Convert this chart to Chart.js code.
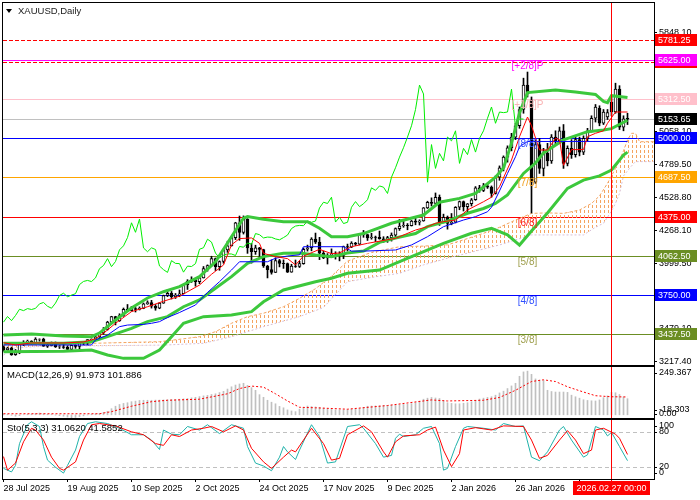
<!DOCTYPE html>
<html>
<head>
<meta charset="utf-8">
<script src="https://cdn.jsdelivr.net/npm/chart.js@4.4.1/dist/chart.umd.min.js"></script>
<style>
  html, body { margin: 0; padding: 0; background: #fff; }
  #wrap { position: relative; width: 700px; height: 500px; overflow: hidden; }
  canvas { position: absolute; left: 0; }
</style>
</head>
<body>
<div id="wrap">
  <canvas id="mainChart" width="700" height="366" style="top:0px"></canvas>
  <canvas id="macdChart" width="700" height="53" style="top:366px"></canvas>
  <canvas id="stochChart" width="700" height="82" style="top:418px"></canvas>
</div>
<script>
// XAUUSD daily candles, bar 0 = 28 Jul 2025
const opens = [
  3337,3314,3326,3274,3289,3363,3373,3381,3369,3397,
  3398,3342,3348,3356,3335,3336,3332,3315,3348,3339,
  3371,3365,3393,3397,3416,3448,3476,3533,3578,3545,
  3586,3636,3625,3641,3634,3643,3679,3690,3660,3644,
  3685,3746,3764,3736,3749,3760,3833,3858,3866,3857,
  3886,3960,3985,4040,3976,4017,4110,4142,4208,4326,
  4250,4356,4125,4095,4126,4113,3981,3952,3930,4024,
  4002,4000,3932,3980,3977,4000,4115,4127,4195,4172,
  4084,4045,4067,4078,4077,4065,4137,4131,4165,4155,
  4240,4231,4205,4212,4210,4197,4190,4208,4228,4280,
  4300,4305,4303,4340,4330,4340,4445,4490,4480,4530,
  4332,4370,4320,4330,4450,4495,4455,4478,4510,4605,
  4585,4620,4610,4560,4690,4765,4850,4925,5010,5100,
  5230,5425,5306,4650,4950,4760,4880,4820,5010,4980,
  5060,4800,4920,4870,4990,4890,5000,5060,5160,5240,
  5120,5170,5290,5210,5393,5090,5160
];
const highs = [
  3345,3334,3334,3315,3363,3385,3390,3385,3409,3400,
  3405,3358,3375,3375,3346,3358,3345,3350,3350,3378,
  3376,3393,3400,3424,3453,3490,3540,3580,3580,3600,
  3646,3674,3658,3650,3655,3686,3703,3707,3674,3690,
  3749,3791,3778,3762,3790,3835,3872,3895,3876,3890,
  3977,3990,4059,4045,4022,4116,4179,4218,4330,4380,
  4381,4359,4161,4147,4130,4115,3987,4030,4047,4034,
  4030,4005,3995,4029,4019,4125,4148,4207,4244,4210,
  4100,4080,4118,4095,4095,4140,4156,4175,4170,4242,
  4265,4233,4242,4220,4260,4215,4218,4245,4285,4353,
  4352,4320,4345,4375,4350,4448,4498,4525,4564,4548,
  4395,4380,4400,4455,4500,4500,4480,4520,4615,4625,
  4640,4635,4620,4700,4780,4860,4940,5040,5120,5250,
  5480,5529,5330,4990,5000,4920,4960,5030,5060,5090,
  5110,4940,4990,5010,5010,5020,5080,5180,5270,5260,
  5230,5230,5330,5440,5420,5180,5200
];
const lows = [
  3301,3309,3268,3268,3281,3346,3357,3358,3367,3381,
  3340,3331,3343,3331,3323,3323,3311,3311,3324,3321,
  3352,3352,3370,3385,3402,3436,3470,3527,3511,3539,
  3580,3620,3621,3614,3630,3640,3675,3645,3628,3640,
  3683,3737,3718,3722,3736,3758,3794,3850,3820,3840,
  3885,3940,3980,3945,3947,4003,4090,4140,4192,4186,
  4236,4082,4004,4074,4046,3970,3886,3916,3929,3974,
  3962,3929,3931,3970,3969,3995,4100,4102,4160,4032,
  4040,3997,4055,4036,4022,4040,4100,4128,4145,4150,
  4210,4185,4195,4175,4195,4170,4170,4180,4200,4265,
  4290,4270,4300,4310,4308,4338,4440,4460,4475,4305,
  4325,4275,4310,4325,4430,4420,4410,4460,4505,4570,
  4575,4600,4530,4555,4665,4740,4810,4900,4990,5080,
  5200,5330,4404,4640,4720,4700,4780,4800,4950,4960,
  4760,4780,4840,4850,4860,4870,4980,5050,5130,5100,
  5110,5150,5180,5200,5070,5060,5110
];
const closes = [
  3314,3326,3274,3289,3363,3373,3381,3369,3397,3398,
  3342,3348,3356,3335,3336,3332,3315,3348,3339,3371,
  3365,3393,3397,3416,3448,3476,3533,3578,3545,3586,
  3636,3625,3641,3634,3643,3679,3690,3660,3644,3685,
  3746,3764,3736,3749,3760,3833,3858,3866,3857,3886,
  3960,3985,4040,3976,4017,4110,4142,4208,4326,4250,
  4356,4125,4095,4126,4113,3981,3952,3930,4024,4002,
  4000,3932,3980,3977,4000,4115,4127,4195,4172,4084,
  4045,4067,4078,4077,4065,4137,4131,4165,4155,4240,
  4231,4205,4212,4210,4197,4190,4208,4228,4280,4300,
  4305,4303,4340,4330,4340,4445,4490,4480,4530,4332,
  4370,4320,4330,4450,4495,4455,4478,4510,4605,4585,
  4620,4610,4560,4690,4765,4850,4925,5010,5100,5230,
  5425,5354,4650,4950,4760,4880,4820,5010,4980,5060,
  4800,4920,4870,4990,4890,5000,5060,5160,5250,5120,
  5210,5205,5210,5393,5090,5155,5153.65
];

const dateTicks = [0, 16, 32, 48, 64, 80, 96, 112, 128, 144];
const dateLabels = ['28 Jul 2025', '19 Aug 2025', '10 Sep 2025', '2 Oct 2025', '24 Oct 2025',
  '17 Nov 2025', '9 Dec 2025', '2 Jan 2026', '26 Jan 2026', '17 Feb 2026'];
const cursorBar = 152;
const cursorLabel = '2026.02.27 00:00';

const priceTicks = [5848.10, 5585.40, 5321.80, 5058.10, 4789.50, 4528.80, 4268.10, 3999.50, 3739.30, 3479.10, 3217.40];
const murreyPrices = [5625, 5312.5, 5000, 4687.5, 4375, 4062.5, 3750, 3437.5];
const murreyNames = ['[+2/8]P', '[+1/8]P', '[8/8]', '[7/8]', '[6/8]', '[5/8]', '[4/8]', '[3/8]'];
const dashedLevels = [5781.25, 5610];
const lastPrice = 5153.65;

// indicators, [bar, value]
const bbUpper = [[0,3430],[7,3438],[15,3422],[22,3417],[24,3446],[28,3550],[32,3646],[36,3726],[40,3776],[44,3816],[49,3896],[53,4015],[57,4215],[60,4362],[61,4375],[65,4354],[70,4335],[76,4335],[79,4282],[82,4215],[86,4215],[90,4240],[97,4322],[105,4388],[109,4490],[114,4521],[118,4561],[123,4690],[125,4763],[127,4962],[129,5202],[131,5365],[138,5385],[143,5370],[148,5350],[150,5295],[151,5285],[152,5340],[156,5325]];
const bbMiddle = [[0,3364],[15,3364],[22,3377],[26,3417],[32,3484],[36,3537],[41,3577],[45,3656],[49,3710],[53,3803],[57,3896],[61,4003],[65,4056],[70,4082],[74,4085],[78,4069],[82,4056],[86,4085],[90,4100],[94,4170],[98,4204],[103,4240],[106,4295],[111,4340],[116,4402],[120,4440],[123,4481],[126,4548],[130,4720],[133,4803],[135,4883],[140,4987],[146,5053],[150,5066],[152,5077],[156,5144]];
const bbLower = [[0,3297],[15,3300],[22,3311],[26,3271],[30,3244],[35,3244],[39,3311],[42,3417],[45,3524],[50,3577],[57,3590],[62,3617],[65,3696],[70,3790],[78,3856],[82,3883],[86,3923],[94,3949],[102,4056],[110,4162],[117,4242],[122,4282],[126,4230],[129,4148],[132,4260],[136,4404],[141,4601],[145,4667],[149,4700],[152,4747],[155,4867],[156,4890]];
const tenkan = [[0,3369],[3,3351],[7,3367],[15,3367],[20,3375],[23,3400],[26,3470],[28,3524],[32,3617],[36,3656],[40,3700],[44,3740],[49,3829],[52,3915],[55,3989],[57,4150],[59,4200],[62,4205],[64,4162],[65,4082],[68,4056],[71,4040],[73,3990],[75,4060],[79,4114],[82,4080],[84,4085],[87,4135],[91,4162],[98,4202],[103,4268],[106,4295],[108,4322],[110,4335],[113,4348],[116,4428],[120,4494],[122,4530],[124,4614],[127,4827],[129,5013],[131,5170],[132,5100],[134,4907],[136,4907],[138,5000],[139,4990],[140,4785],[142,4910],[145,4910],[146,5013],[148,5040],[150,5060],[151,5120],[153,5210],[156,5210]];
const kijun = [[0,3351],[22,3351],[23,3391],[26,3430],[29,3497],[31,3510],[35,3515],[37,3524],[39,3537],[41,3570],[44,3610],[48,3670],[51,3770],[54,3856],[57,3949],[59,4015],[66,4015],[68,4043],[71,4061],[74,4070],[75,4135],[85,4135],[87,4100],[90,4100],[98,4109],[102,4149],[106,4215],[110,4295],[115,4348],[118,4375],[121,4414],[122,4450],[124,4580],[126,4720],[128,4853],[129,4933],[131,4975],[156,4975]];
const spanA = [[0,3351],[15,3351],[22,3364],[30,3370],[39,3377],[45,3400],[49,3417],[53,3457],[57,3524],[61,3577],[65,3604],[70,3656],[74,3723],[78,3800],[82,3900],[86,4020],[92,4090],[99,4135],[105,4140],[111,4150],[116,4200],[120,4242],[124,4290],[128,4348],[132,4401],[136,4405],[140,4401],[144,4428],[147,4480],[149,4540],[151,4641],[153,4760],[155,4900],[156,4987],[157,5040],[158,5040],[159,4973],[162.6,4973]];
const spanB = [[0,3271],[3,3330],[10,3340],[25,3345],[40,3350],[50,3364],[57,3417],[65,3497],[74,3577],[80,3650],[86,3856],[92,3890],[99,3923],[105,3990],[111,4043],[118,4100],[124,4149],[132,4229],[145,4229],[148,4290],[150,4322],[152,4420],[153,4481],[154,4560],[155,4700],[157,4780],[158,4814],[162.6,4814]];
const chikouShift = 26;

const macdMain = [
  5,3,-3,-8,-5,0,3,4,8,10,
  6,3,2,-2,-5,-8,-13,-18.303,-15,-10,
  -6,-1,3,6,8,14,20,35,49,59,
  65,69,75,78,82,83,83,83,84,84,
  85,86,87,88,89,91,93,97,100,104,
  108,111,116,120,127,134,147,160,170,176,
  180,168,155,140,115,100,83,72,63,48,
  40,28,22,18,32,40,50,47,45,43,
  38,34,31,28,28,28,30,32,33,35,
  42,49,50,51,52,53,53,55,56,57,
  59,60,64,69,78,89,95,99,96,93,
  80,69,65,63,63,66,69,75,82,90,
  95,99,103,112,125,135,150,165,180,220,
  245,249.367,231,205,198,196,140,133,130,130,
  130,128,112,103,95,86,82,80,79,85,
  98,108,128,126,116,102,91.973
];
const macdSignal = [[0,6],[24,6],[27,18],[32,49],[37,75],[41,83],[49,89],[56,120],[59,150],[62,164],[65,158],[68,120],[71,79],[74,43],[78,40],[86,32],[96,53],[107,85],[111,79],[120,83],[124,99],[128,140],[132,190],[135,200],[138,190],[141,160],[145,130],[148,109],[152,103],[156,101.886]];
const stochMain = [[0,18],[2,12],[3,23],[4,60],[6,92],[7,97],[9,89],[10,55],[11,32],[13,20],[15,10],[16,23],[18,49],[19,72],[21,94],[23,97],[26,94],[29,86],[32,75],[35,75],[37,66],[39,50],[40,83],[42,76],[44,75],[46,89],[49,83],[51,92],[54,77],[57,92],[60,86],[61,55],[63,27],[65,22],[67,14],[69,37],[70,55],[71,46],[73,33],[74,49],[77,92],[79,72],[81,27],[83,29],[86,89],[89,92],[90,86],[93,60],[95,37],[97,40],[98,69],[99,76],[100,72],[103,75],[105,86],[107,89],[109,60],[110,15],[111,18],[113,55],[115,86],[116,89],[120,86],[123,83],[125,94],[128,89],[130,90],[132,37],[134,31],[136,46],[139,83],[140,89],[142,66],[145,37],[146,41],[148,89],[150,83],[151,73],[152,79],[154,55],[156,31.062]];
const stochSignal = [[0,38],[1,15],[3,27],[5,63],[7,86],[8,83],[10,66],[12,37],[14,18],[15,15],[18,29],[20,66],[22,92],[24,94],[28,90],[32,80],[35,75],[38,60],[40,57],[42,75],[44,72],[47,83],[50,86],[52,89],[55,80],[58,90],[60,83],[62,52],[65,29],[67,18],[70,37],[72,49],[73,46],[75,66],[77,86],[80,60],[82,32],[84,35],[86,75],[90,90],[92,80],[95,46],[96,37],[98,63],[100,73],[104,75],[106,83],[108,88],[110,49],[112,21],[114,43],[115,83],[118,87],[122,83],[125,90],[130,89],[132,66],[134,35],[136,40],[139,66],[141,82],[143,66],[145,43],[147,49],[148,83],[150,86],[153,76],[154,69],[156,41.585]];
const stochLevels = [80, 20];

// layout
const X_MIN = -0.125, X_MAX = 162.625;
const AXIS_W = 46;
const FONT = '"Liberation Sans", Arial, sans-serif';
const murreyColors = ['#ff00ff', '#ffc0cb', '#0000ff', '#ffa500', '#ff0000', '#6b8e23', '#0000ff', '#6b8e23'];
const murreyTextColors = ['#ff00ff', '#f9b4b4', '#3050ff', '#f0a020', '#ff2020', '#a0a050', '#3050ff', '#a0a050'];

const pts = arr => arr.map(([x, y]) => ({ x, y }));

const hatchCanvas = document.createElement('canvas');
hatchCanvas.width = 4; hatchCanvas.height = 5;
const hctx = hatchCanvas.getContext('2d');
hctx.fillStyle = '#f4a460';
hctx.fillRect(0, 0, 1, 3);
const hatch = hctx.createPattern(hatchCanvas, 'repeat');

function cursorX(chart) {
  return Math.floor(chart.scales.x.getPixelForValue(cursorBar));
}
function hLine(ctx, a, py, color, dash) {
  ctx.fillStyle = color;
  if (!dash) { ctx.fillRect(a.left, py, a.right - a.left, 1); return; }
  for (let x = a.left; x < a.right; x += dash[0] + dash[1]) {
    ctx.fillRect(x, py, Math.min(dash[0], a.right - x), 1);
  }
}
function drawFrame(chart) {
  const { ctx, chartArea: a } = chart;
  ctx.save();
  ctx.fillStyle = '#000';
  ctx.fillRect(a.left - 1, a.top - 1, a.right - a.left + 2, 1);
  ctx.fillRect(a.left - 1, a.bottom, a.right - a.left + 2, 1);
  ctx.fillRect(a.left - 1, a.top - 1, 1, a.bottom - a.top + 2);
  ctx.fillRect(a.right, a.top - 1, 1, a.bottom - a.top + 2);
  ctx.restore();
}
function drawCursor(chart, extraBottom) {
  const { ctx, chartArea: a } = chart;
  ctx.save();
  ctx.fillStyle = '#ff0000';
  ctx.fillRect(cursorX(chart), a.top, 1, a.bottom - a.top + (extraBottom || 0));
  ctx.restore();
}
function sideLabel(ctx, text, y) {
  ctx.fillStyle = '#000';
  ctx.font = '9px ' + FONT;
  ctx.textAlign = 'left';
  ctx.textBaseline = 'middle';
  ctx.fillText(text, 659, y);
  ctx.fillRect(654, Math.round(y), 3, 1);
}

const mainDecor = {
  id: 'mainDecor',
  beforeDatasetsDraw(chart) {
    const { ctx, chartArea: a, scales: { y } } = chart;
    ctx.save();
    murreyPrices.forEach((p, i) => hLine(ctx, a, Math.round(y.getPixelForValue(p)), murreyColors[i]));
    dashedLevels.forEach(p => hLine(ctx, a, Math.round(y.getPixelForValue(p)), '#ff0000', [4, 2]));
    hLine(ctx, a, Math.round(y.getPixelForValue(lastPrice)), '#c0c0c0');
    ctx.restore();
  },
  afterDatasetsDraw(chart) {
    const { ctx, scales: { x, y } } = chart;
    ctx.save();
    ctx.font = '10px ' + FONT;
    ctx.textAlign = 'center';
    ctx.textBaseline = 'top';
    const nx = x.getPixelForValue(131);
    murreyPrices.forEach((p, i) => {
      ctx.fillStyle = murreyTextColors[i];
      ctx.fillText(murreyNames[i], nx, Math.round(y.getPixelForValue(p)) + 1);
    });
    ctx.restore();
    drawCursor(chart);
  },
  afterDraw(chart) {
    const { ctx, scales: { y } } = chart;
    drawFrame(chart);
    ctx.save();
    ctx.font = '9px ' + FONT;
    ctx.textAlign = 'left';
    ctx.textBaseline = 'middle';
    const box = (p, bg) => {
      const top = Math.round(y.getPixelForValue(p)) - 6;
      ctx.fillStyle = bg;
      ctx.fillRect(655, top, 42, 12);
      ctx.fillStyle = '#fff';
      ctx.fillText(p.toFixed(2), 658, top + 6.5);
    };
    dashedLevels.forEach(p => box(p, '#ff0000'));
    murreyPrices.forEach((p, i) => box(p, murreyColors[i]));
    box(lastPrice, '#000');
    // title
    ctx.fillStyle = '#000';
    ctx.beginPath(); ctx.moveTo(6, 9); ctx.lineTo(12, 9); ctx.lineTo(9, 13); ctx.closePath(); ctx.fill();
    ctx.font = '9.5px ' + FONT;
    ctx.fillStyle = '#1a1a1a';
    ctx.fillText('XAUUSD,Daily', 18, 11.5);
    ctx.restore();
  }
};

const macdDecor = {
  id: 'macdDecor',
  afterDatasetsDraw(chart) { drawCursor(chart); },
  afterDraw(chart) {
    const { ctx } = chart;
    drawFrame(chart);
    ctx.save();
    sideLabel(ctx, '249.367', 7);
    sideLabel(ctx, '-18.303', 44);
    sideLabel(ctx, '0.00', 47.5);
    ctx.font = '9.5px ' + FONT;
    ctx.fillStyle = '#000';
    ctx.textAlign = 'left';
    ctx.textBaseline = 'middle';
    ctx.fillText('MACD(12,26,9) 91.973 101.886', 7, 9.5);
    ctx.restore();
  }
};

const stochDecor = {
  id: 'stochDecor',
  beforeDatasetsDraw(chart) {
    const { ctx, chartArea: a, scales: { y } } = chart;
    ctx.save();
    stochLevels.forEach(v => hLine(ctx, a, Math.round(y.getPixelForValue(v)), '#c0c0c0', [4, 3]));
    ctx.restore();
  },
  afterDatasetsDraw(chart) { drawCursor(chart, 2); },
  afterDraw(chart) {
    const { ctx } = chart;
    drawFrame(chart);
    ctx.save();
    sideLabel(ctx, '100', 8);
    sideLabel(ctx, '80', 14);
    sideLabel(ctx, '20', 49);
    sideLabel(ctx, '0', 55);
    ctx.font = '9.5px ' + FONT;
    ctx.fillStyle = '#000';
    ctx.textAlign = 'left';
    ctx.textBaseline = 'middle';
    ctx.fillText('Sto(5,3,3) 31.0620 41.5852', 7, 10.5);
    // cursor date box
    const cx = cursorX(chart) + 0.5;
    ctx.fillStyle = '#ff0000';
    ctx.fillRect(Math.round(cx - 38.5), 63, 77, 14);
    ctx.fillStyle = '#fff';
    ctx.font = '9px ' + FONT;
    ctx.textAlign = 'center';
    ctx.fillText(cursorLabel, cx, 70.5);
    ctx.restore();
  }
};

const baseOptions = (padding) => ({
  responsive: false,
  animation: false,
  events: [],
  devicePixelRatio: 1,
  layout: { padding },
  plugins: { legend: { display: false }, tooltip: { enabled: false } },
  elements: { point: { radius: 0 }, line: { tension: 0 } }
});
const hiddenX = { type: 'linear', min: X_MIN, max: X_MAX, display: false, offset: false, grid: { offset: false } };

// main price chart
const mainOpts = baseOptions({ left: 3, top: 3, bottom: 1, right: 0 });
mainOpts.scales = {
  x: hiddenX,
  y: {
    position: 'right', min: 3191.1, max: 6079.9,
    afterFit: s => { s.width = AXIS_W; s.paddingTop = 0; s.paddingBottom = 0; },
    afterBuildTicks: s => { s.ticks = priceTicks.map(v => ({ value: v })); },
    ticks: { callback: v => Number(v).toFixed(2), color: '#000', font: { family: 'Liberation Sans', size: 9 }, padding: 2 },
    grid: { drawOnChartArea: false, tickLength: 3, color: '#000' },
    border: { color: '#000' }
  }
};
new Chart(document.getElementById('mainChart'), {
  type: 'line',
  data: {
    datasets: [
      { data: pts(spanA), borderColor: '#f4a460', borderWidth: 1, borderDash: [3, 2], fill: '+1', backgroundColor: hatch, order: 20 },
      { data: pts(spanB), borderColor: '#d8bfd8', borderWidth: 1, borderDash: [2, 2], fill: false, order: 19 },
      { type: 'bar', data: highs.map((h, i) => ({ x: i, y: [lows[i], h] })), backgroundColor: '#000', barThickness: 1, grouped: false, order: 15 },
      { type: 'bar', data: closes.map((c, i) => ({ x: i, y: [opens[i], c] })),
        backgroundColor: closes.map((c, i) => c >= opens[i] ? '#ffffff' : '#000000'),
        borderColor: '#000', borderWidth: 1, borderSkipped: false, barThickness: 3, grouped: false, order: 14 },
      { data: closes.slice(chikouShift).map((c, i) => ({ x: i, y: c })), borderColor: '#00ee00', borderWidth: 1, fill: false, order: 6 },
      { data: pts(bbUpper), borderColor: '#3cc83c', borderWidth: 3, fill: false, order: 5 },
      { data: pts(bbMiddle), borderColor: '#3cc83c', borderWidth: 3, fill: false, order: 5 },
      { data: pts(bbLower), borderColor: '#3cc83c', borderWidth: 3, fill: false, order: 5 },
      { data: pts(kijun), borderColor: '#0000ff', borderWidth: 1, fill: false, order: 4 },
      { data: pts(tenkan), borderColor: '#ff0000', borderWidth: 1, fill: false, order: 3 }
    ]
  },
  options: mainOpts,
  plugins: [mainDecor]
});

// MACD
const macdOpts = baseOptions({ left: 3, top: 1, bottom: 1, right: AXIS_W });
macdOpts.scales = {
  x: hiddenX,
  y: { min: -18.303, max: 273, display: false }
};
new Chart(document.getElementById('macdChart'), {
  type: 'line',
  data: {
    datasets: [
      { data: pts(macdSignal), borderColor: '#ff0000', borderWidth: 1, borderDash: [2, 2], fill: false, order: 1 },
      { type: 'bar', data: macdMain.map((v, i) => ({ x: i, y: v })), backgroundColor: '#c0c0c0', barThickness: 1, grouped: false, order: 2 }
    ]
  },
  options: macdOpts,
  plugins: [macdDecor]
});

// Stochastic
const stochOpts = baseOptions({ left: 3, top: 2, bottom: 0, right: AXIS_W });
stochOpts.scales = {
  x: {
    type: 'linear', min: X_MIN, max: X_MAX, offset: false,
    afterFit: s => { s.height = 21; s.paddingLeft = 0; s.paddingRight = 0; },
    afterBuildTicks: s => { s.ticks = dateTicks.map(v => ({ value: v })); },
    ticks: {
      callback: (v, i) => dateLabels[i], align: 'start', autoSkip: false, maxRotation: 0, minRotation: 0,
      color: '#000', font: { family: 'Liberation Sans', size: 9 }, padding: 1
    },
    grid: { drawOnChartArea: false, tickLength: 3, color: '#000', offset: false },
    border: { color: '#000' }
  },
  y: { min: 0, max: 100, display: false }
};
new Chart(document.getElementById('stochChart'), {
  type: 'line',
  data: {
    datasets: [
      { data: pts(stochSignal), borderColor: '#ff0000', borderWidth: 1, fill: false },
      { data: pts(stochMain), borderColor: '#20b2aa', borderWidth: 1, fill: false }
    ]
  },
  options: stochOpts,
  plugins: [stochDecor]
});
</script>
</body>
</html>
